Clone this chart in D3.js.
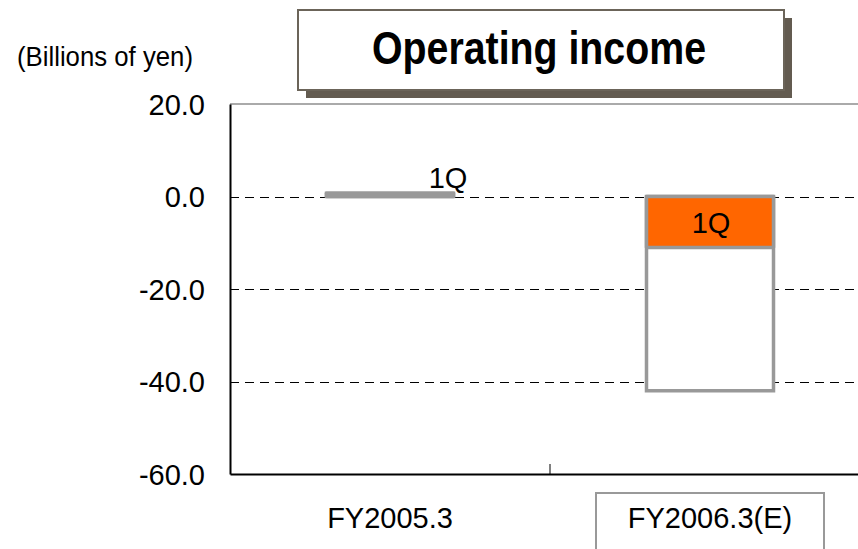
<!DOCTYPE html>
<html>
<head>
<meta charset="utf-8">
<script src="https://cdn.jsdelivr.net/npm/d3@7"></script>
<style>
  body { margin: 0; background: #fff; }
  text { font-family: "Liberation Sans", Arial, sans-serif; }
</style>
</head>
<body>
<div id="chart"></div>
<script>
// chart values (billions of yen)
var categories = ["FY2005.3", "FY2006.3(E)"];
var totals = [0.7, -42.0];
var firstQuarter = [0.7, -11.0];
var quarterColors = ["#fff", "#ff6600"];
var yTicks = [20, 0, -20, -40, -60];
var gridTicks = [0, -20, -40];

var width = 858, height = 549;
var svg = d3.select("#chart").append("svg")
    .attr("width", width)
    .attr("height", height);

var plot = {left: 230, right: 870, top: 104, bottom: 474};

var x = d3.scaleBand()
    .domain(categories)
    .range([plot.left, plot.right])
    .paddingInner(0)
    .paddingOuter(0);

var y = d3.scaleLinear()
    .domain([-60, 20])
    .range([plot.bottom, plot.top]);

var barWidth = 127;
var fmt = function(d){ return d3.format(".1f")(d).replace("\u2212", "-"); };

// title box with shadow
var titleG = svg.append("g");
titleG.append("rect")
    .attr("x", 306).attr("y", 18)
    .attr("width", 486).attr("height", 80)
    .attr("fill", "#635b50");
titleG.append("rect")
    .attr("x", 298).attr("y", 10)
    .attr("width", 486).attr("height", 80)
    .attr("fill", "#fff")
    .attr("stroke", "#6b6459")
    .attr("stroke-width", 2);
titleG.append("text")
    .attr("x", 372).attr("y", 64)
    .attr("font-size", 47)
    .attr("font-weight", "bold")
    .attr("textLength", 334)
    .attr("lengthAdjust", "spacingAndGlyphs")
    .text("Operating income");

svg.append("text")
    .attr("x", 17).attr("y", 66)
    .attr("font-size", 27)
    .attr("textLength", 176)
    .attr("lengthAdjust", "spacingAndGlyphs")
    .text("(Billions of yen)");

// top frame line
svg.append("line")
    .attr("x1", plot.left).attr("x2", plot.right)
    .attr("y1", plot.top).attr("y2", plot.top)
    .attr("stroke", "#aaa")
    .attr("stroke-width", 2);

// gridlines
svg.append("g").selectAll("line")
    .data(gridTicks)
    .join("line")
    .attr("x1", plot.left).attr("x2", plot.right)
    .attr("y1", function(d){ return Math.round(y(d)) + 0.5; })
    .attr("y2", function(d){ return Math.round(y(d)) + 0.5; })
    .attr("stroke", "#000")
    .attr("stroke-width", 1)
    .attr("stroke-dasharray", "9,6");

// total bars (white with gray border)
svg.append("g").selectAll("rect")
    .data(categories)
    .join("rect")
    .attr("x", function(d){ return x(d) + x.bandwidth()/2 - barWidth/2; })
    .attr("y", function(d, i){ return y(Math.max(0, totals[i])); })
    .attr("width", barWidth)
    .attr("height", function(d, i){ return Math.abs(y(totals[i]) - y(0)); })
    .attr("fill", "#fff")
    .attr("stroke", "#999")
    .attr("stroke-width", 3.5);

// 1Q segment
svg.append("g").selectAll("rect")
    .data(categories)
    .join("rect")
    .attr("x", function(d){ return x(d) + x.bandwidth()/2 - barWidth/2; })
    .attr("y", function(d, i){ return y(Math.max(0, firstQuarter[i])); })
    .attr("width", barWidth)
    .attr("height", function(d, i){ return Math.abs(y(firstQuarter[i]) - y(0)); })
    .attr("fill", function(d, i){ return quarterColors[i]; })
    .attr("stroke", "#999")
    .attr("stroke-width", 3.5)
    .attr("stroke-linejoin", "round");

// 1Q labels
svg.append("text")
    .attr("x", x(categories[0]) + x.bandwidth()/2 + 58)
    .attr("y", 188)
    .attr("text-anchor", "middle")
    .attr("font-size", 29)
    .text("1Q");
svg.append("text")
    .attr("x", x(categories[1]) + x.bandwidth()/2 + 1)
    .attr("y", (y(0) + y(firstQuarter[1]))/2 + 11)
    .attr("text-anchor", "middle")
    .attr("font-size", 29)
    .text("1Q");

// y axis
var yAxis = d3.axisLeft(y)
    .tickValues(yTicks)
    .tickSize(0)
    .tickPadding(25)
    .tickFormat(fmt);
var yg = svg.append("g")
    .attr("transform", "translate(" + plot.left + ",0)")
    .call(yAxis);
yg.select(".domain").attr("stroke", "#000").attr("stroke-width", 2);
yg.selectAll("text")
    .attr("font-size", 29)
    .attr("fill", "#000")
    .attr("dy", "0.36em")
    .attr("font-family", "Liberation Sans, Arial, sans-serif");

// x axis
var xAxis = d3.axisBottom(x).tickSize(0).tickPadding(33);
var xg = svg.append("g")
    .attr("transform", "translate(0," + plot.bottom + ")")
    .call(xAxis);
xg.select(".domain").attr("stroke", "#000").attr("stroke-width", 2);
xg.selectAll("text")
    .attr("font-size", 29)
    .attr("fill", "#000")
    .attr("font-family", "Liberation Sans, Arial, sans-serif");

// category divider tick
svg.append("line")
    .attr("x1", x(categories[1])).attr("x2", x(categories[1]))
    .attr("y1", plot.bottom - 10).attr("y2", plot.bottom)
    .attr("stroke", "#000");

// box around the estimate label
svg.append("rect")
    .attr("x", x(categories[1]) + x.bandwidth()/2 - 114)
    .attr("y", 493)
    .attr("width", 228)
    .attr("height", 60)
    .attr("fill", "none")
    .attr("stroke", "#999")
    .attr("stroke-width", 2);
</script>
</body>
</html>
